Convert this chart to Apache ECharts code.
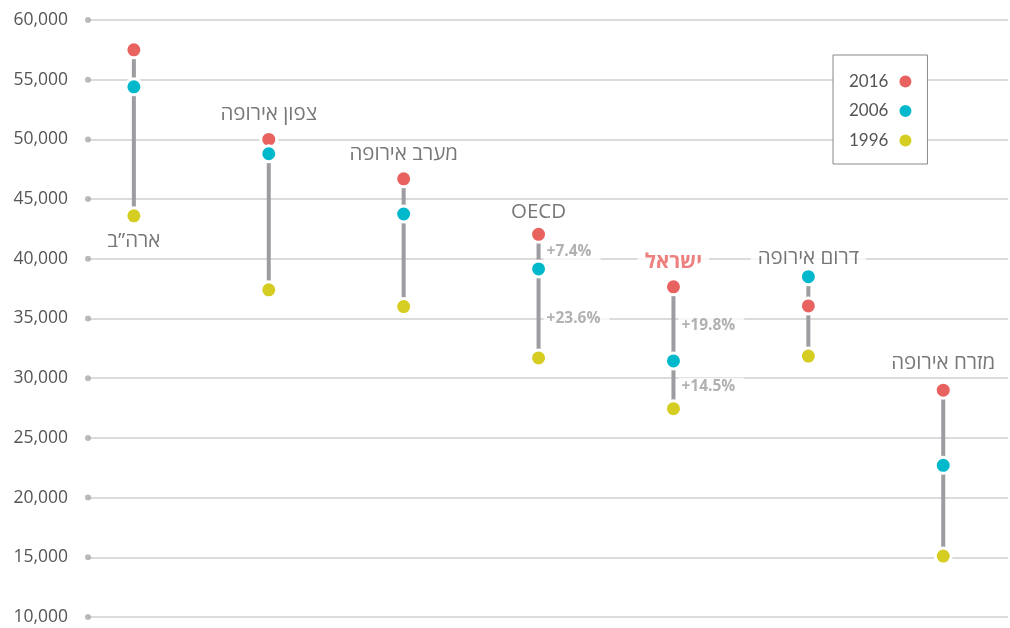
<!DOCTYPE html>
<html>
<head>
<meta charset="utf-8">
<script src="https://cdn.jsdelivr.net/npm/echarts@6/dist/echarts.min.js"></script>
<style>html,body{margin:0;padding:0;background:#fff;}#c{width:1010px;height:628px;}</style>
</head>
<body>
<div id="c"></div>
<script>
// ---- data ----
const categories = ['ארה”ב', 'צפון אירופה', 'מערב אירופה', 'OECD', 'ישראל', 'דרום אירופה', 'מזרח אירופה'];
const years = ['2016', '2006', '1996'];
const v2016 = [57500, 50000, 46700, 42050, 37650, 36050, 29000];
const v2006 = [54400, 48800, 43750, 39150, 31450, 38500, 22700];
const v1996 = [43600, 37400, 36000, 31700, 27450, 31850, 15100];
const yTicks = [10000, 15000, 20000, 25000, 30000, 35000, 40000, 45000, 50000, 55000, 60000];
const changeCategory = [3, 3, 4, 4];
const changeFrom = ['2006', '1996', '2006', '1996'];
const changeTo = ['2016', '2006', '2016', '2006'];
const changeText = ['+7.4%', '+23.6%', '+19.8%', '+14.5%'];

// ---- styling ----
const FONT = "'Open Sans', 'Liberation Sans', 'DejaVu Sans', sans-serif";
const colors = { '2016': '#e8625f', '2006': '#00b8cc', '1996': '#d5cd22' };
const valuesByYear = { '2016': v2016, '2006': v2006, '1996': v1996 };
const labelBelow = [true, false, false, false, false, false, false];
const labelDistance = [25, 25, 25, 22, 25, 19, 27];
const changeShift = [0, 5, 2, 2];
const highlight = 4; // Israel
const xMin = -0.34, xMax = 6.48;

const chart = echarts.init(document.getElementById('c'));

const rangeData = categories.map((c, i) => {
  const vals = years.map(y => valuesByYear[y][i]);
  return [i, Math.min(...vals), Math.max(...vals)];
});

const catLabelData = categories.map((c, i) => {
  const vals = years.map(y => valuesByYear[y][i]);
  const below = labelBelow[i];
  return {
    value: [i, below ? Math.min(...vals) : Math.max(...vals)],
    label: {
      offset: [0, below ? labelDistance[i] : -labelDistance[i]],
      color: i === highlight ? '#e8625f' : '#555',
      fontWeight: i === highlight ? 'bold' : 'normal'
    }
  };
});

const changeData = changeText.map((t, k) => {
  const i = changeCategory[k];
  const a = valuesByYear[changeFrom[k]][i];
  const b = valuesByYear[changeTo[k]][i];
  return { value: [i, (a + b) / 2], name: t, label: { offset: [0, changeShift[k]] } };
});

const dotSeries = years.map(y => ({
  name: y,
  type: 'scatter',
  data: valuesByYear[y].map((v, i) => [i, v]),
  symbol: 'circle',
  symbolSize: 16,
  itemStyle: { color: colors[y], borderColor: '#fff', borderWidth: 3, opacity: 1 },
  z: 5,
  clip: false
}));

chart.setOption({
  animation: false,
  textStyle: { fontFamily: FONT },
  grid: { left: 88, right: 2, top: 20, bottom: 11 },
  xAxis: { type: 'value', min: xMin, max: xMax, show: false },
  yAxis: {
    type: 'value', min: 10000, max: 60000, interval: 5000,
    axisLine: { show: false }, axisTick: { show: false },
    splitLine: { lineStyle: { color: '#cfcfcf', width: 1.5 } },
    axisLabel: {
      margin: 20, fontSize: 17.5, color: '#555', fontFamily: FONT,
      formatter: v => v.toLocaleString('en-US')
    }
  },
  legend: {
    data: years,
    orient: 'vertical', left: 833, top: 55, align: 'right',
    itemWidth: 14, itemHeight: 14, itemGap: 12.5,
    padding: [18, 14, 15, 16],
    backgroundColor: '#fff', borderColor: '#888', borderWidth: 1,
    textStyle: { fontFamily: "Lato, 'Open Sans', sans-serif", fontSize: 17, color: '#555', padding: [0, 5, 0, 0] }
  },
  series: [
    {
      type: 'scatter', name: 'ticks', silent: true, clip: false,
      data: yTicks.map(t => [xMin, t]),
      symbolSize: 6, itemStyle: { color: '#aaa' }, z: 1
    },
    {
      type: 'custom', name: 'ranges', silent: true, clip: false, z: 3,
      data: rangeData,
      renderItem: (params, api) => {
        const p1 = api.coord([api.value(0), api.value(1)]);
        const p2 = api.coord([api.value(0), api.value(2)]);
        return { type: 'line', shape: { x1: p1[0], y1: p1[1], x2: p2[0], y2: p2[1] },
                 style: { stroke: '#9d9da1', lineWidth: 4 } };
      }
    },
    ...dotSeries,
    {
      type: 'scatter', name: 'catLabels', silent: true, clip: false, z: 4,
      symbolSize: 0,
      data: catLabelData,
      label: {
        show: true, position: 'inside', fontSize: 20.5, fontFamily: FONT,
        backgroundColor: '#fff', padding: [1, 7],
        formatter: p => categories[p.value[0]]
      }
    },
    {
      type: 'scatter', name: 'changes', silent: true, clip: false, z: 4,
      symbolSize: 0,
      data: changeData,
      label: {
        show: true, position: 'right', distance: 5, fontSize: 15.5, fontWeight: 'bold',
        color: '#9d9d9d', fontFamily: FONT,
        backgroundColor: '#fff', padding: [1, 9, 1, 3],
        formatter: p => p.name
      }
    }
  ]
});
</script>
</body>
</html>
